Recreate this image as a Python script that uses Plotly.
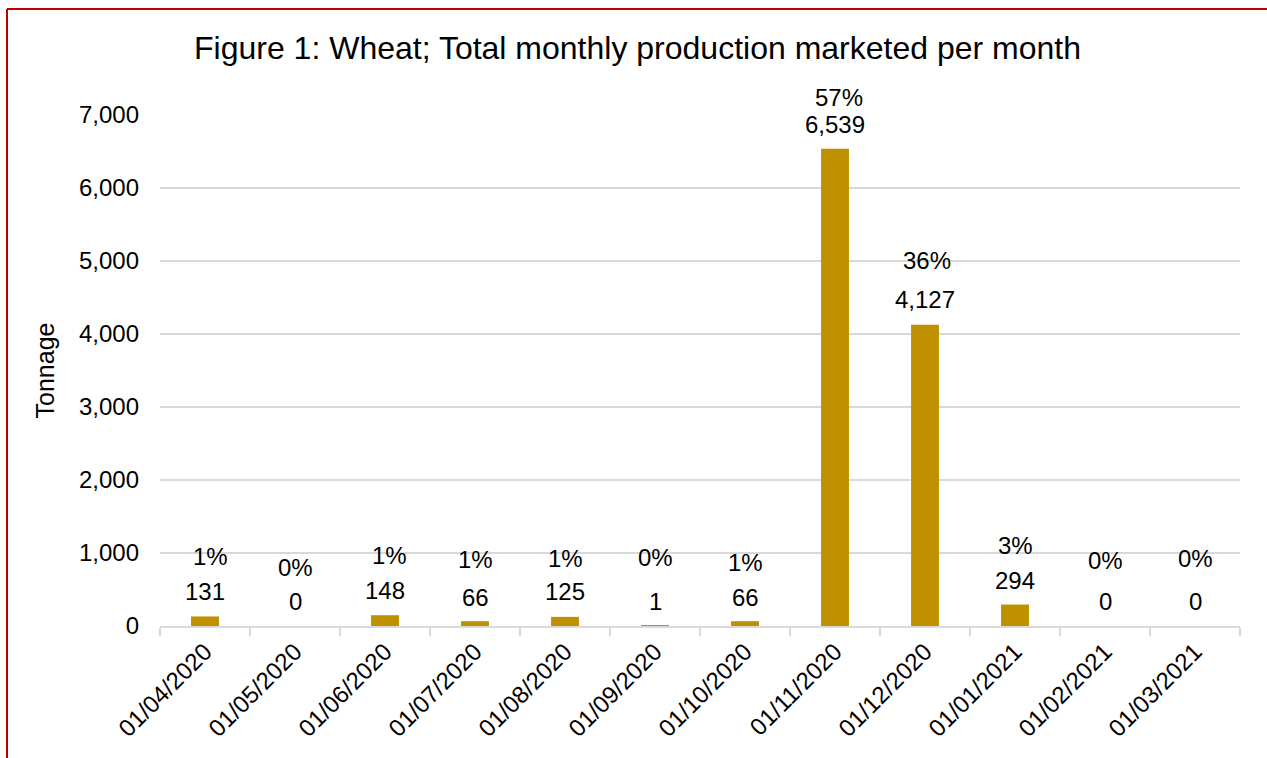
import plotly.graph_objects as go

months = ["01/04/2020", "01/05/2020", "01/06/2020", "01/07/2020", "01/08/2020", "01/09/2020",
          "01/10/2020", "01/11/2020", "01/12/2020", "01/01/2021", "01/02/2021", "01/03/2021"]
tonnage = [131, 0, 148, 66, 125, 1, 66, 6539, 4127, 294, 0, 0]
value_labels = ["131", "0", "148", "66", "125", "1", "66", "6,539", "4,127", "294", "0", "0"]
pct_labels = ["1%", "0%", "1%", "1%", "1%", "0%", "1%", "57%", "36%", "3%", "0%", "0%"]
y_ticks = [0, 1000, 2000, 3000, 4000, 5000, 6000, 7000]

# label placement styles (pixels above bar top)
value_shift = [25, 25, 25, 24, 25, 24, 24, 24, 25, 24, 25, 25]
pct_shift = [60, 59, 60, 62, 58, 68, 59, 51, 64, 59, 66, 68]
pct_xshift = [5, 0, 4, 0, 0, 0, 0, 4, 2, 0, 0, 0]

FONT = "Liberation Sans, Arial, sans-serif"
W, H = 1267, 758
L, R, T, B = 160, 27, 115, 132

fig = go.Figure(go.Bar(
    x=months, y=tonnage, marker=dict(color="#BF9000", line=dict(width=0)),
    hoverinfo="x+y",
))

anns = []
for i, m in enumerate(months):
    anns.append(dict(x=m, y=tonnage[i], xref="x", yref="y", text=value_labels[i],
                     showarrow=False, yanchor="middle", yshift=value_shift[i],
                     font=dict(family=FONT, size=24, color="#000000")))
    anns.append(dict(x=m, y=tonnage[i], xref="x", yref="y", text=pct_labels[i],
                     showarrow=False, yanchor="middle", yshift=pct_shift[i], xshift=pct_xshift[i],
                     font=dict(family=FONT, size=24, color="#000000")))

# red frame (left and top edges)
px0 = (7 - L) / (W - L - R)
py1 = (H - B - 9) / (H - T - B)
shapes = [
    dict(type="line", xref="paper", yref="paper", x0=px0, x1=px0, y0=-0.5, y1=py1,
         line=dict(color="#C00000", width=2)),
    dict(type="line", xref="paper", yref="paper", x0=px0, x1=1.2, y0=py1, y1=py1,
         line=dict(color="#C00000", width=2)),
]

fig.update_layout(
    width=W, height=H,
    margin=dict(l=L, r=R, t=T, b=B, autoexpand=False),
    paper_bgcolor="white", plot_bgcolor="white",
    bargap=0.69,
    showlegend=False,
    title=dict(text="Figure 1: Wheat; Total monthly production marketed per month",
               x=(W / 2 + 4) / W, xref="container", xanchor="center", y=1 - 48 / H, yref="container",
               yanchor="middle",
               font=dict(family=FONT, size=32, color="#000000")),
    font=dict(family=FONT, color="#000000"),
    xaxis=dict(type="category", tickangle=-45, tickson="boundaries", ticks="outside", ticklen=8,
               tickcolor="#D9D9D9", tickwidth=2, showline=True, linecolor="#D9D9D9", linewidth=2,
               showgrid=False, tickfont=dict(family=FONT, size=24, color="#000000"),
               ticklabelstandoff=0),
    yaxis=dict(range=[0, 7000], tickvals=y_ticks, tickformat=",d", showgrid=True,
               gridcolor="#D9D9D9", gridwidth=1.5, zeroline=False, showline=False,
               tickfont=dict(family=FONT, size=24, color="#000000"), ticklabelstandoff=20,
               title=dict(text="Tonnage", standoff=17, font=dict(family=FONT, size=25, color="#000000"))),
    annotations=anns,
    shapes=shapes,
)

fig.write_html("out.html")
